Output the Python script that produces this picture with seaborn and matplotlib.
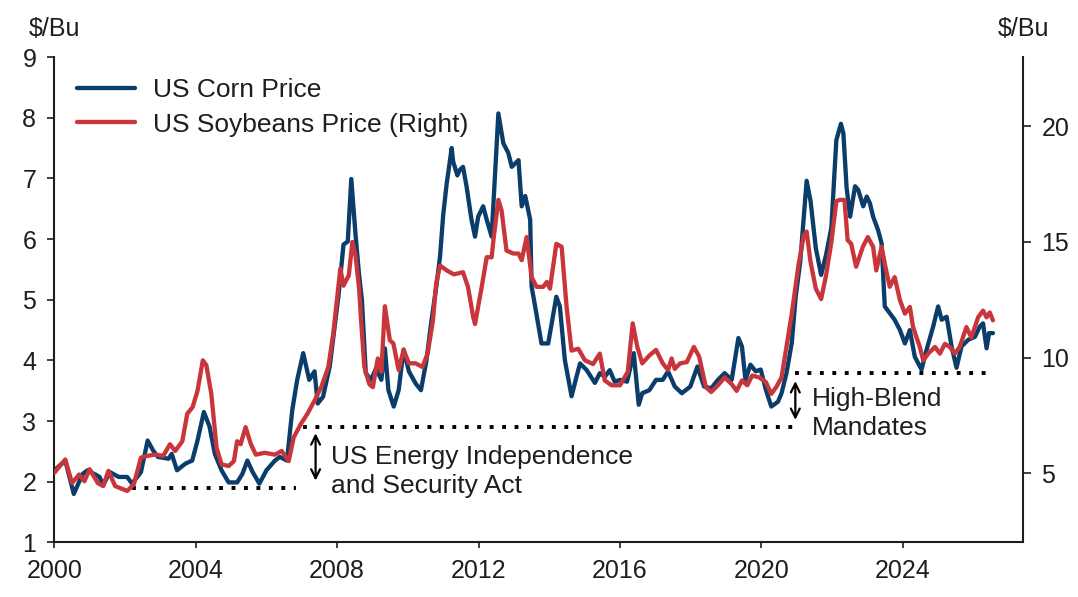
import matplotlib
matplotlib.use('Agg')
import matplotlib.pyplot as plt
import seaborn as sns

sns.set_style('ticks')
plt.rcParams['font.family'] = ['Liberation Sans', 'DejaVu Sans']

# monthly-ish readings, decimal years
corn_dates = [
    2000.0, 2000.31, 2000.55, 2000.8, 2000.94, 2001.28, 2001.38, 2001.57, 2001.82, 2002.06,
    2002.2, 2002.45, 2002.64, 2002.79, 2002.93, 2003.23, 2003.32, 2003.47, 2003.71, 2003.9,
    2004.05, 2004.23, 2004.39, 2004.54, 2004.73, 2004.93, 2005.17, 2005.32, 2005.46, 2005.61,
    2005.8, 2006.0, 2006.24, 2006.38, 2006.58, 2006.73, 2006.87, 2007.04, 2007.21, 2007.36,
    2007.45, 2007.6, 2007.79, 2008.04, 2008.18, 2008.3, 2008.4, 2008.52, 2008.62, 2008.7,
    2008.81, 2008.96, 2009.1, 2009.25, 2009.35, 2009.45, 2009.6, 2009.74, 2009.88, 2010.03,
    2010.22, 2010.37, 2010.52, 2010.66, 2010.8, 2010.91, 2011.0, 2011.1, 2011.24, 2011.28,
    2011.4, 2011.47, 2011.56, 2011.66, 2011.8, 2011.9, 2011.99, 2012.13, 2012.23, 2012.37,
    2012.56, 2012.7, 2012.84, 2012.94, 2013.13, 2013.22, 2013.32, 2013.46, 2013.5, 2013.6,
    2013.78, 2013.97, 2014.2, 2014.3, 2014.44, 2014.63, 2014.77, 2014.87, 2015.06, 2015.29,
    2015.43, 2015.57, 2015.71, 2015.85, 2016.0, 2016.2, 2016.39, 2016.53,
    2016.63, 2016.83, 2017.02, 2017.21, 2017.36, 2017.55, 2017.75, 2017.99, 2018.19, 2018.38,
    2018.58, 2018.77, 2018.96, 2019.16, 2019.35, 2019.45, 2019.55, 2019.69, 2019.84, 2019.98,
    2020.13, 2020.28, 2020.47, 2020.57, 2020.71, 2020.86, 2020.97, 2021.1, 2021.28, 2021.39,
    2021.54, 2021.69, 2021.83, 2021.98, 2022.12, 2022.25, 2022.32, 2022.41, 2022.51, 2022.65,
    2022.74, 2022.88, 2022.98, 2023.07, 2023.16, 2023.3, 2023.4, 2023.49, 2023.63, 2023.77,
    2023.92, 2024.06, 2024.2, 2024.34, 2024.53, 2024.67, 2024.86, 2025.0, 2025.1, 2025.24,
    2025.38, 2025.52, 2025.66, 2025.85, 2026.04, 2026.18, 2026.27, 2026.37, 2026.44, 2026.55,
]
corn_price = [
    2.19, 2.35, 1.80, 2.13, 2.19, 2.08, 1.94, 2.16, 2.08, 2.08,
    1.97, 2.16, 2.68, 2.52, 2.41, 2.38, 2.46, 2.19, 2.30, 2.35,
    2.68, 3.15, 2.91, 2.46, 2.19, 1.99, 1.99, 2.13, 2.35, 2.16,
    1.97, 2.19, 2.35, 2.41, 2.35, 3.18, 3.68, 4.12, 3.68, 3.82,
    3.29, 3.40, 3.90, 5.08, 5.91, 5.96, 6.99, 6.07, 5.41, 5.00,
    3.79, 3.68, 3.87, 3.68, 4.20, 3.51, 3.24, 3.51, 4.18, 3.82,
    3.62, 3.51, 3.98, 4.62, 5.20, 5.71, 6.40, 6.92, 7.50, 7.28,
    7.05, 7.14, 7.19, 6.87, 6.32, 6.04, 6.37, 6.54, 6.32, 6.04,
    8.07, 7.58, 7.42, 7.19, 7.30, 6.54, 6.71, 6.32, 5.22, 4.89,
    4.28, 4.28, 5.05, 4.89, 4.01, 3.41, 3.73, 3.95, 3.84, 3.63,
    3.79, 3.73, 3.84, 3.65, 3.68, 3.65, 4.12, 3.27,
    3.46, 3.51, 3.68, 3.68, 3.82, 3.57, 3.46, 3.57, 3.90, 3.57,
    3.54, 3.68, 3.79, 3.68, 4.37, 4.23, 3.68, 3.93, 3.82, 3.85,
    3.51, 3.24, 3.32, 3.46, 3.79, 4.29, 5.05, 5.63, 6.96, 6.63,
    5.85, 5.41, 5.74, 6.19, 7.63, 7.90, 7.74, 6.85, 6.37, 6.87,
    6.81, 6.54, 6.70, 6.59, 6.37, 6.15, 5.93, 4.89, 4.78, 4.67,
    4.50, 4.28, 4.50, 4.06, 3.85, 4.17, 4.56, 4.89, 4.67, 4.72,
    4.23, 3.88, 4.23, 4.34, 4.39, 4.56, 4.61, 4.20, 4.45, 4.45,
]

soy_dates = [
    2000.0, 2000.31, 2000.5, 2000.7, 2000.85, 2001.0, 2001.23, 2001.38, 2001.53, 2001.72,
    2002.06, 2002.25, 2002.45, 2002.64, 2002.84, 2003.08, 2003.27, 2003.42, 2003.62, 2003.76,
    2003.91, 2004.05, 2004.2, 2004.3, 2004.44, 2004.59, 2004.73, 2004.93, 2005.08, 2005.17,
    2005.27, 2005.41, 2005.56, 2005.7, 2005.95, 2006.24, 2006.43, 2006.63, 2006.77, 2006.97,
    2007.16, 2007.36, 2007.55, 2007.75, 2007.89, 2008.09, 2008.18, 2008.33, 2008.43, 2008.52,
    2008.62, 2008.67, 2008.77, 2008.91, 2009.01, 2009.15, 2009.25, 2009.35, 2009.49, 2009.59,
    2009.74, 2009.88, 2010.03, 2010.22, 2010.41, 2010.56, 2010.71, 2010.8, 2010.91, 2011.1,
    2011.3, 2011.56, 2011.7, 2011.85, 2011.9, 2012.09, 2012.23, 2012.37, 2012.42, 2012.56,
    2012.65, 2012.79, 2012.98, 2013.13, 2013.22, 2013.36, 2013.5, 2013.64, 2013.83, 2013.93,
    2014.02, 2014.2, 2014.35, 2014.49, 2014.63, 2014.82, 2015.01, 2015.24, 2015.43, 2015.57,
    2015.76, 2016.0, 2016.22, 2016.36, 2016.49, 2016.63, 2016.83, 2017.02, 2017.21,
    2017.36, 2017.46, 2017.55, 2017.7, 2017.89, 2018.09, 2018.24, 2018.43, 2018.58, 2018.77,
    2018.96, 2019.16, 2019.3, 2019.45, 2019.6, 2019.74, 2019.94, 2020.13, 2020.28, 2020.42,
    2020.57, 2020.71, 2020.86, 2021.05, 2021.2, 2021.28, 2021.39, 2021.54, 2021.69, 2021.83,
    2021.98, 2022.12, 2022.21, 2022.35, 2022.44, 2022.54, 2022.68, 2022.87, 2023.01, 2023.16,
    2023.25, 2023.4, 2023.49, 2023.63, 2023.77, 2023.92, 2024.06, 2024.2, 2024.29, 2024.48,
    2024.58, 2024.72, 2024.91, 2025.05, 2025.19, 2025.33, 2025.47, 2025.61, 2025.8, 2025.94,
    2026.13, 2026.27, 2026.37, 2026.46, 2026.55,
]
soy_price = [
    5.02, 5.59, 4.57, 4.94, 4.65, 5.17, 4.57, 4.44, 5.10, 4.44,
    4.23, 4.52, 5.67, 5.75, 5.80, 5.75, 6.25, 5.96, 6.38, 7.57,
    7.85, 8.56, 9.88, 9.67, 8.43, 6.09, 5.38, 5.31, 5.52, 6.38,
    6.25, 6.99, 6.25, 5.80, 5.88, 5.80, 5.96, 5.52, 6.54, 7.12,
    7.57, 8.14, 8.72, 9.59, 11.03, 13.85, 13.11, 13.56, 15.00, 14.42,
    12.98, 11.77, 9.59, 8.85, 8.72, 9.96, 9.38, 12.22, 10.75, 10.61,
    9.46, 10.33, 9.75, 9.75, 9.59, 10.17, 11.61, 13.20, 13.98, 13.77,
    13.60, 13.69, 13.06, 11.74, 11.45, 13.06, 14.34, 14.34, 15.08, 16.82,
    16.37, 14.63, 14.50, 14.50, 14.21, 15.21, 13.48, 13.06, 13.06, 13.27,
    12.98, 14.92, 14.79, 12.19, 10.30, 10.38, 9.88, 9.72, 10.17, 9.01,
    8.80, 8.80, 9.38, 11.48, 10.46, 9.75, 10.09, 10.33, 9.75,
    9.46, 9.96, 9.51, 9.75, 9.80, 10.46, 10.04, 8.72, 8.51, 8.80,
    9.14, 8.85, 8.56, 9.01, 8.80, 9.22, 9.14, 8.93, 8.43, 8.72,
    9.14, 10.46, 11.90, 14.00, 15.29, 15.45, 14.14, 12.98, 12.53, 13.56,
    15.00, 16.76, 16.82, 16.82, 15.08, 14.92, 13.93, 14.79, 15.21, 14.79,
    13.77, 14.79, 14.06, 13.06, 13.48, 12.48, 11.90, 12.19, 11.32, 10.46,
    9.88, 10.17, 10.46, 10.17, 10.59, 10.46, 10.17, 10.46, 11.32, 10.87,
    11.74, 12.03, 11.74, 11.95, 11.61,
]

year_ticks = [2000, 2004, 2008, 2012, 2016, 2020, 2024]
corn_ticks = [1, 2, 3, 4, 5, 6, 7, 8, 9]
soy_ticks = [5, 10, 15, 20]

CORN_COLOR = '#0b3d6b'
SOY_COLOR = '#c8363b'
TXT = '#1e1e1e'

fig, ax = plt.subplots(figsize=(10.78, 5.97), dpi=100)
fig.subplots_adjust(left=0.0504, right=0.9493, bottom=0.0913, top=0.9045)
ax2 = ax.twinx()

sns.lineplot(x=corn_dates, y=corn_price, ax=ax, color=CORN_COLOR, lw=3.1,
             estimator=None, label='US Corn Price', legend=False)
sns.lineplot(x=soy_dates, y=soy_price, ax=ax2, color=SOY_COLOR, lw=3.1,
             estimator=None, label='US Soybeans Price (Right)', legend=False)

ax.set_xlim(2000, 2027.41)
ax.set_ylim(1, 9)
ax2.set_ylim(2, 23)
ax.set_xticks(year_ticks)
ax.set_yticks(corn_ticks)
ax2.set_yticks(soy_ticks)

for a in (ax, ax2):
    a.spines['top'].set_visible(False)
    for s in a.spines.values():
        s.set_linewidth(1.5)
        s.set_color(TXT)
ax.spines['right'].set_visible(False)
ax2.spines['left'].set_visible(False)
ax2.spines['bottom'].set_visible(False)

ax.tick_params(axis='y', length=5, width=1.2, pad=8, labelsize=18, colors=TXT)
ax.tick_params(axis='x', length=4, width=1.2, pad=8, labelsize=18, colors=TXT)
ax2.tick_params(axis='y', length=6, width=1.2, pad=7, labelsize=18, colors=TXT)

ax.text(0, 1.057, r'\$/Bu', transform=ax.transAxes, ha='center', va='center',
        fontsize=18, color=TXT)
ax2.text(1, 1.057, r'\$/Bu', transform=ax2.transAxes, ha='center', va='center',
         fontsize=18, color=TXT)

# threshold levels (corn $/bu) and policy arrows
dot = dict(color='black', lw=2.8, linestyle=(0, (1, 2.2)))
ax.plot([2002.2, 2006.85], [1.89, 1.89], **dot)
ax.plot([2007.02, 2020.96], [2.90, 2.90], **dot)
ax.plot([2020.96, 2026.45], [3.79, 3.79], **dot)

arrow = dict(arrowstyle='<->', color='black', lw=1.6, mutation_scale=16,
             shrinkA=0, shrinkB=0)
ax.annotate('', xy=(2007.39, 2.02), xytext=(2007.39, 2.80), arrowprops=arrow)
ax.annotate('', xy=(2020.96, 3.02), xytext=(2020.96, 3.66), arrowprops=arrow)

ax.text(2007.84, 2.175, 'US Energy Independence\nand Security Act', fontsize=19,
        color=TXT, ha='left', va='center', linespacing=1.25)
ax.text(2021.44, 3.12, 'High-Blend\nMandates', fontsize=19,
        color=TXT, ha='left', va='center', linespacing=1.25)

h1, l1 = ax.get_legend_handles_labels()
h2, l2 = ax2.get_legend_handles_labels()
ax2.legend(h1 + h2, l1 + l2, loc='upper left', bbox_to_anchor=(0.0714, 1 - 78 / 597),
           bbox_transform=fig.transFigure, frameon=False, fontsize=19,
           borderpad=0, borderaxespad=0, handlelength=2.2, handletextpad=0.68,
           labelspacing=0.4, labelcolor=TXT)

fig.savefig('out.png', dpi=100)
